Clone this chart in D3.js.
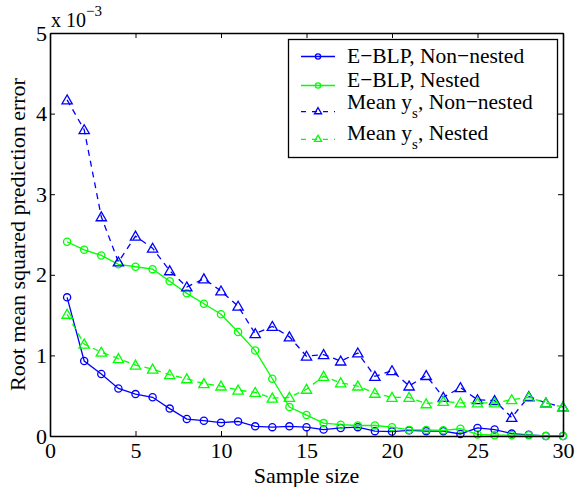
<!DOCTYPE html>
<html>
<head>
<meta charset="utf-8">
<script src="https://cdn.jsdelivr.net/npm/d3@7"></script>
<style>
  body { margin: 0; background: #fff; }
  svg text { font-family: "Times New Roman", Times, "Liberation Serif", "DejaVu Serif", serif; fill: #000; }
</style>
</head>
<body>
<svg id="chart" width="576" height="487"></svg>
<script>
const sampleSize = d3.range(1, 31);

// values in units of 1e-3
const bluNonNested = [1.72, 0.93, 0.77, 0.59, 0.52, 0.48, 0.34, 0.21, 0.19, 0.165,
  0.18, 0.12, 0.11, 0.12, 0.11, 0.08, 0.10, 0.11, 0.06, 0.055,
  0.07, 0.06, 0.06, 0.025, 0.10, 0.08, 0.03, 0.015, 0.0, 0.0];
const blpNested = [2.41, 2.31, 2.24, 2.13, 2.10, 2.07, 1.92, 1.77, 1.64, 1.51,
  1.29, 1.06, 0.71, 0.36, 0.26, 0.16, 0.14, 0.13, 0.13, 0.11,
  0.075, 0.075, 0.07, 0.09, 0.02, 0.01, 0.01, 0.01, 0.0, 0.0];
const meanNonNested = [4.17, 3.80, 2.72, 2.16, 2.48, 2.33, 2.05, 1.85, 1.95, 1.80,
  1.61, 1.27, 1.36, 1.23, 0.99, 1.01, 0.93, 1.03, 0.74, 0.81,
  0.62, 0.75, 0.48, 0.60, 0.45, 0.44, 0.23, 0.49, 0.41, 0.36];
const meanNested = [1.51, 1.14, 1.04, 0.96, 0.88, 0.83, 0.76, 0.71, 0.65, 0.62,
  0.57, 0.54, 0.47, 0.48, 0.58, 0.74, 0.66, 0.62, 0.53, 0.48,
  0.48, 0.40, 0.43, 0.41, 0.41, 0.41, 0.45, 0.48, 0.41, 0.36];

const xTicks = [0, 5, 10, 15, 20, 25, 30];
const yTicks = [0, 1, 2, 3, 4, 5];

const seriesNames = ["E\u2212BLP, Non\u2212nested", "E\u2212BLP, Nested", "Mean y", "Mean y"];
const seriesSuffix = ["", "", ", Non\u2212nested", ", Nested"];

const series = [
  { values: bluNonNested, color: "#0000ff", marker: "circle", dash: null },
  { values: blpNested, color: "#00ff00", marker: "circle", dash: null },
  { values: meanNonNested, color: "#0000ff", marker: "triangle", dash: "6 5" },
  { values: meanNested, color: "#00ff00", marker: "triangle", dash: "6 5" }
];

const FONT = '"Times New Roman", Times, "Liberation Serif", serif';

const svg = d3.select("#chart");
const margin = { left: 50, right: 13, top: 33, bottom: 51 };
const W = 576, H = 487;

const x = d3.scaleLinear().domain([0, 30]).range([margin.left, W - margin.right]);
const y = d3.scaleLinear().domain([0, 5]).range([H - margin.bottom, margin.top]);

const tickLen = 5;

// lines and markers
const line = d3.line().x((d, i) => x(sampleSize[i])).y(d => y(d));
const tri = d3.symbol().type(d3.symbolTriangle).size(46);

series.forEach(s => {
  svg.append("path")
    .datum(s.values)
    .attr("d", line)
    .attr("fill", "none")
    .attr("stroke", s.color)
    .attr("stroke-width", 1.3)
    .attr("stroke-dasharray", s.dash);

  const g = svg.append("g");
  if (s.marker === "circle") {
    g.selectAll("circle")
      .data(s.values)
      .join("circle")
      .attr("cx", (d, i) => x(sampleSize[i]))
      .attr("cy", d => y(d))
      .attr("r", 3.6)
      .attr("fill", "none")
      .attr("stroke", s.color)
      .attr("stroke-width", 1.3);
  } else {
    g.selectAll("path")
      .data(s.values)
      .join("path")
      .attr("d", tri)
      .attr("transform", (d, i) => `translate(${x(sampleSize[i])},${y(d) + 1})`)
      .attr("fill", "none")
      .attr("stroke", s.color)
      .attr("stroke-width", 1.3);
  }
});

// axes box with inward ticks
const fmt = d3.format("d");
const axB = svg.append("g").attr("transform", `translate(0,${y(0)})`)
  .call(d3.axisBottom(x).tickValues(xTicks).tickFormat(fmt).tickSizeInner(-tickLen).tickSizeOuter(0).tickPadding(6));
const axT = svg.append("g").attr("transform", `translate(0,${y(5)})`)
  .call(d3.axisTop(x).tickValues(xTicks).tickSizeInner(-tickLen).tickSizeOuter(0).tickFormat(""));
const axL = svg.append("g").attr("transform", `translate(${x(0)},0)`)
  .call(d3.axisLeft(y).tickValues(yTicks).tickFormat(fmt).tickSizeInner(-tickLen).tickSizeOuter(0).tickPadding(3));
const axR = svg.append("g").attr("transform", `translate(${x(30)},0)`)
  .call(d3.axisRight(y).tickValues(yTicks).tickSizeInner(-tickLen).tickSizeOuter(0).tickFormat(""));

[axB, axT, axL, axR].forEach(a => {
  a.attr("font-family", FONT);
  a.select(".domain").attr("stroke", "#000").attr("stroke-width", 1.6);
  a.selectAll(".tick line").attr("stroke", "#000").attr("stroke-width", 1);
  a.selectAll(".tick text").attr("font-family", FONT).style("font-size", "22px").attr("fill", "#000");
});

// exponent label
const expo = svg.append("text").attr("x", 51).attr("y", 27)
  .attr("font-family", FONT).style("font-size", "20px");
expo.append("tspan").text("x 10");
expo.append("tspan").attr("dy", -11).style("font-size", "15px").text("\u22123");

// axis titles
svg.append("text")
  .attr("x", (x(0) + x(30)) / 2)
  .attr("y", 483)
  .attr("text-anchor", "middle")
  .attr("font-family", FONT)
  .style("font-size", "22px")
  .text("Sample size");

svg.append("text")
  .attr("transform", `translate(25,${(y(0) + y(5)) / 2}) rotate(-90)`)
  .attr("text-anchor", "middle")
  .attr("font-family", FONT)
  .style("font-size", "22px")
  .text("Root mean squared prediction error");

// legend
const leg = svg.append("g").attr("font-family", FONT);
leg.append("rect")
  .attr("x", 288.5).attr("y", 39.5)
  .attr("width", 269).attr("height", 118)
  .attr("fill", "#fff")
  .attr("stroke", "#000")
  .attr("stroke-width", 1.3);

const legLineY = [56.5, 85.5, 111.7, 139.3];
const legTextY = [63, 87, 109, 139.5];
series.forEach((s, i) => {
  const gy = legLineY[i];
  leg.append("line")
    .attr("x1", 301).attr("x2", 335)
    .attr("y1", gy).attr("y2", gy)
    .attr("stroke", s.color)
    .attr("stroke-width", 1.3)
    .attr("stroke-dasharray", s.dash ? "5 6" : null);
  if (s.marker === "circle") {
    leg.append("circle").attr("cx", 318).attr("cy", gy).attr("r", 2.6)
      .attr("fill", "none").attr("stroke", s.color).attr("stroke-width", 1.3);
  } else {
    leg.append("path").attr("d", d3.symbol().type(d3.symbolTriangle).size(22))
      .attr("transform", `translate(318,${gy})`)
      .attr("fill", "none").attr("stroke", s.color).attr("stroke-width", 1.3);
  }
  const t = leg.append("text").attr("x", 347).attr("y", legTextY[i])
    .attr("font-family", FONT).style("font-size", "21.5px");
  if (s.marker === "circle") {
    t.text(seriesNames[i]);
  } else {
    t.append("tspan").text(seriesNames[i]);
    t.append("tspan").attr("dy", 9).style("font-size", "15px").text("s");
    t.append("tspan").attr("dy", -9).text(seriesSuffix[i]);
  }
});
</script>
</body>
</html>
